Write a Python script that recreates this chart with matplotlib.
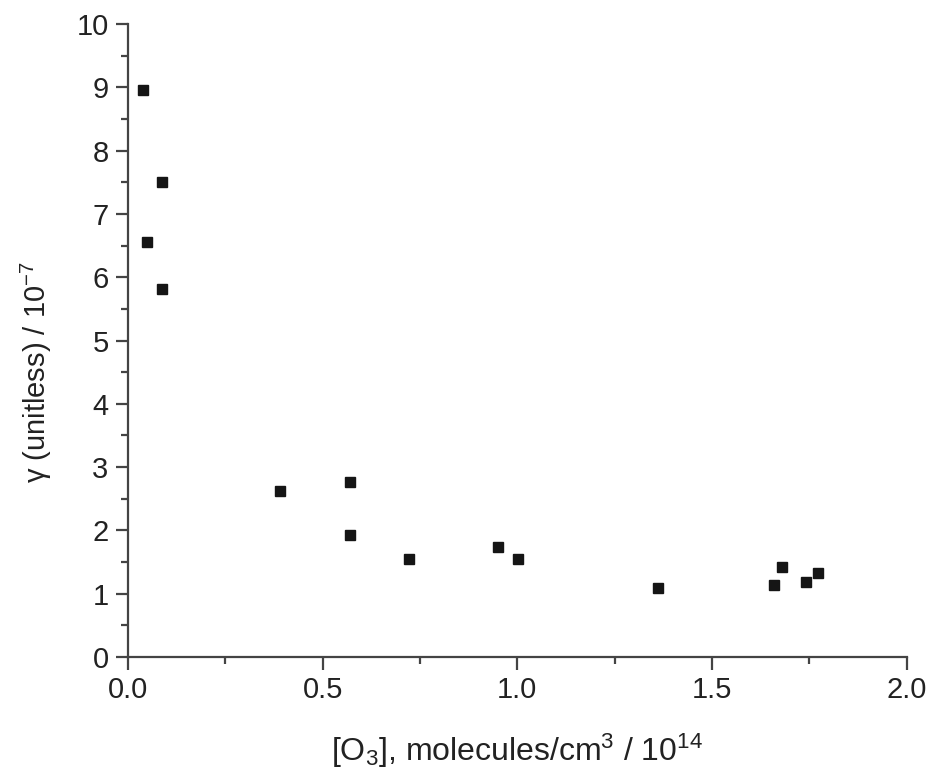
import matplotlib
matplotlib.use("Agg")
import matplotlib.pyplot as plt
from matplotlib.ticker import MultipleLocator

plt.rcParams['font.family'] = ['Liberation Sans', 'DejaVu Sans']
plt.rcParams['mathtext.fontset'] = 'custom'
plt.rcParams['mathtext.rm'] = 'Liberation Sans'
plt.rcParams['mathtext.it'] = 'Liberation Sans:italic'
plt.rcParams['mathtext.default'] = 'regular'

ozone = [0.039, 0.088, 0.049, 0.088, 0.391, 0.571, 0.571, 0.721, 0.950, 1.001,
         1.362, 1.659, 1.680, 1.741, 1.771]
gamma = [8.95, 7.51, 6.55, 5.81, 2.62, 2.77, 1.93, 1.55, 1.74, 1.55,
         1.085, 1.13, 1.42, 1.18, 1.32]

x_ticks = [0.0, 0.5, 1.0, 1.5, 2.0]
x_ticklabels = ['0.0', '0.5', '1.0', '1.5', '2.0']
y_ticks = list(range(0, 11))

fig = plt.figure(figsize=(9.28, 7.73), dpi=100)
ax = fig.add_axes([128/928, 1-657/773, (906.7-128)/928, (657-24)/773])

ax.plot(ozone, gamma, linestyle='none', marker='s', markersize=7.5,
        color='#151515', markeredgecolor='#151515', clip_on=False)

ax.set_xlim(0, 2.0)
ax.set_ylim(0, 10)
ax.set_xticks(x_ticks)
ax.set_xticklabels(x_ticklabels)
ax.set_yticks(y_ticks)
ax.xaxis.set_minor_locator(MultipleLocator(0.25))
ax.yaxis.set_minor_locator(MultipleLocator(0.5))

spine_col = '#444444'
for s in ['top', 'right']:
    ax.spines[s].set_visible(False)
for s in ['left', 'bottom']:
    ax.spines[s].set_color(spine_col)
    ax.spines[s].set_linewidth(1.6)

ax.tick_params(which='major', direction='out', length=9, width=1.6, color=spine_col,
               labelsize=21, labelcolor='#222222', pad=5)
ax.tick_params(which='minor', direction='out', length=5, width=1.6, color=spine_col)

ax.set_xlabel(r'[O$_3$], molecules/cm$^3$ / 10$^{14}$', fontsize=23, color='#222222')
ax.set_ylabel(r'γ (unitless) / 10$^{-7}$', fontsize=21, color='#222222')
ax.xaxis.set_label_coords(0.5, -0.118)
ax.yaxis.set_label_coords(-0.095, 0.45)

fig.savefig('out.png', dpi=100, facecolor='white')
